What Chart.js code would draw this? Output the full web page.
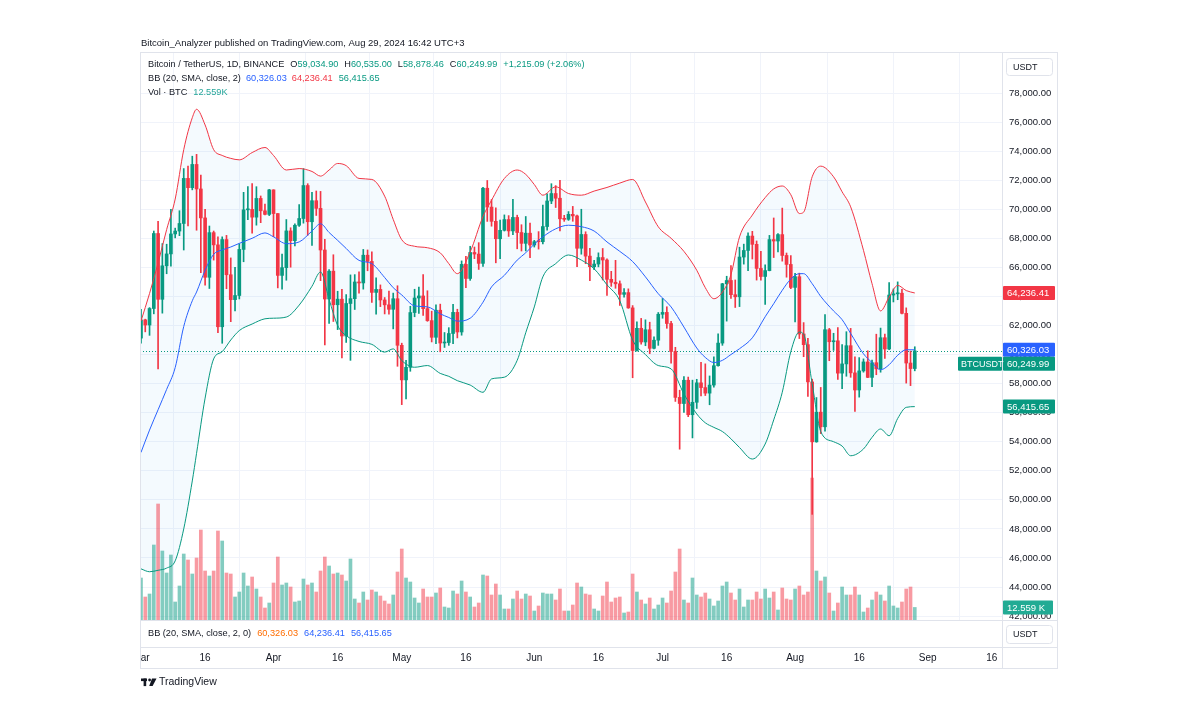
<!DOCTYPE html>
<html lang="en">
<head>
<meta charset="utf-8">
<title>BTCUSDT 1D - Bollinger Bands</title>
<script src="https://cdn.jsdelivr.net/npm/chart.js@4.4.1/dist/chart.umd.min.js"></script>
<style>
  html, body { margin: 0; padding: 0; background: #fff; }
  #chart { display: block; }
</style>
</head>
<body>
<canvas id="chart" width="1200" height="728"></canvas>
<script>
'use strict';

/* ============================================================
   DATA  (x = days since Mar 1, 2024)
   ============================================================ */
const tickDays   = [0, 15, 31, 46, 61, 76, 92, 107, 122, 137, 153, 168, 184, 199];
const tickLabels = ['Mar', '16', 'Apr', '16', 'May', '16', 'Jun', '16', 'Jul', '16', 'Aug', '16', 'Sep', '16'];
const priceTicks = [42000, 44000, 46000, 48000, 50000, 52000, 54000, 56000, 58000, 60000,
                    62000, 64000, 66000, 68000, 70000, 72000, 74000, 76000, 78000];

const opens = [
  61130, 62387, 62031, 63168, 68330, 63801, 66106, 66925, 68300, 68498,
  69020, 72123, 71482, 73083, 71396, 69403, 65316, 68390, 67548, 61912,
  67913, 65491, 63778, 64062, 67234, 69958, 69987, 69455, 70744, 69892,
  69645, 71333, 69702, 65446, 65980, 68508, 67837, 68896, 69362, 71631,
  69139, 70587, 70060, 67195, 63821, 65738, 63426, 63811, 61276, 63512,
  63843, 64994, 64927, 66837, 66407, 64276, 64481, 63756, 63419, 63113,
  63841, 60636, 58254, 59123, 62889, 63891, 64031, 63161, 62334, 61187,
  63049, 60793, 60825, 61448, 62901, 61552, 66206, 65235, 67024, 66915,
  66274, 71446, 70148, 69166, 67969, 68549, 69290, 68508, 69436, 68398,
  67652, 68352, 67540, 67767, 67765, 68809, 70567, 71082, 70757, 69342,
  69305, 69648, 69540, 67314, 68263, 66773, 66043, 66228, 66676, 66504,
  65175, 64974, 64869, 64143, 64262, 63210, 60277, 61806, 60864, 61706,
  60427, 60986, 62772, 62900, 62135, 60208, 57050, 56628, 58230, 55857,
  56714, 58051, 57725, 57343, 57899, 59231, 60787, 64870, 65097, 64118,
  63974, 66710, 67163, 68154, 67585, 65927, 65372, 65777, 67912, 67813,
  68255, 66819, 66201, 64619, 65357, 61415, 60680, 58116, 53991, 56034,
  55027, 61710, 60880, 60945, 58719, 59354, 60609, 58737, 57560, 58874,
  59491, 58427, 59438, 59013, 61157, 60381, 64094, 64178, 64220, 62834,
  59415, 59034.90
];
const highs = [
  63114, 62433, 63231, 68500, 69170, 67637, 67593, 69990, 68700, 69900,
  72800, 72969, 73650, 73777, 72357, 70000, 68845, 68500, 68107, 68100,
  68200, 66650, 65999, 67622, 71162, 71561, 71769, 71552, 70913, 70355,
  71366, 71342, 69708, 66915, 69291, 68725, 69000, 70326, 72797, 71758,
  71172, 71256, 71228, 67932, 65840, 66868, 64355, 64486, 64125, 65481,
  65500, 65696, 67233, 67199, 67075, 65275, 64792, 63923, 64370, 64228,
  64734, 60781, 59602, 63321, 64494, 64646, 65500, 64390, 62985, 63421,
  63469, 61515, 61850, 63450, 63118, 66444, 66752, 67451, 67400, 67700,
  71515, 71979, 70666, 70096, 69250, 69610, 69562, 70687, 69591, 68935,
  69500, 69044, 67860, 68460, 70288, 71063, 71758, 71625, 71997, 69582,
  69840, 70195, 69590, 69999, 68449, 67310, 66478, 66998, 67298, 66588,
  65727, 66482, 65066, 64546, 64521, 63369, 62258, 62487, 62389, 62225,
  61224, 62892, 63861, 63288, 62285, 60498, 57546, 58475, 58449, 58236,
  58296, 59470, 59359, 58526, 59850, 61420, 64900, 65388, 66128, 65133,
  67386, 67598, 68373, 68480, 67817, 67102, 66175, 68200, 69399, 68318,
  70079, 66987, 66810, 65593, 65600, 62198, 61117, 58305, 57040, 57736,
  62745, 61800, 61464, 61858, 60680, 61572, 61800, 59849, 59789, 59700,
  60260, 59617, 61400, 61820, 61400, 64955, 64513, 65000, 64481, 63212,
  60234, 60535.00
];
const lows = [
  60777, 61561, 61320, 62800, 59005, 62848, 65560, 66082, 68030, 68180,
  67194, 68845, 71334, 68555, 65630, 64780, 64545, 66500, 61500, 60775,
  64529, 62260, 63000, 63825, 66385, 69280, 68359, 68904, 69076, 69601,
  69562, 68111, 64586, 64500, 65113, 66011, 67480, 68824, 69041, 68210,
  67518, 69571, 65086, 60660, 62134, 62274, 61716, 59768, 60833, 59600,
  63100, 64227, 64500, 65765, 63589, 62783, 63298, 62794, 62784, 61765,
  59191, 56552, 56937, 58848, 62599, 62823, 62700, 62285, 60866, 60749,
  60187, 60487, 60632, 60750, 61143, 61330, 64602, 65106, 66600, 65857,
  66060, 69162, 68832, 66312, 66600, 68500, 68128, 68250, 67277, 67124,
  67128, 66670, 67397, 67257, 67613, 68567, 70383, 70119, 68500, 69168,
  69232, 69172, 66051, 66905, 66251, 65078, 65840, 66034, 65131, 64060,
  64693, 64559, 63379, 63944, 63178, 58402, 60239, 60712, 60606, 60063,
  60383, 60632, 62497, 61806, 59400, 56772, 53485, 56018, 55724, 54260,
  56289, 57157, 57178, 56542, 57756, 59194, 60632, 62300, 63854, 63238,
  63300, 66222, 65777, 66573, 65124, 65111, 63456, 65757, 66676, 67066,
  66428, 65323, 64532, 62248, 61100, 59850, 57122, 49000, 53962, 54558,
  54730, 59575, 60288, 58286, 57642, 58505, 58433, 56078, 57068, 58785,
  58408, 57787, 58610, 58783, 59724, 60342, 63619, 63773, 62800, 58034,
  57860, 58878.46
];
const closes = [
  62387, 62031, 63168, 68330, 63801, 66106, 66925, 68300, 68498, 69020,
  72123, 71482, 73083, 71396, 69403, 65316, 68390, 67548, 61912, 67913,
  65491, 63778, 64062, 67234, 69958, 69987, 69455, 70744, 69892, 69645,
  71333, 69702, 65446, 65980, 68508, 67837, 68896, 69362, 71631, 69139,
  70587, 70060, 67195, 63821, 65738, 63426, 63811, 61276, 63512, 63843,
  64994, 64927, 66837, 66407, 64276, 64481, 63756, 63419, 63113, 63841,
  60636, 58254, 59123, 62889, 63891, 64031, 63161, 62334, 61187, 63049,
  60793, 60825, 61448, 62901, 61552, 66206, 65235, 67024, 66915, 66274,
  71446, 70148, 69166, 67969, 68549, 69290, 68508, 69436, 68398, 67652,
  68352, 67540, 67767, 67765, 68809, 70567, 71082, 70757, 69342, 69305,
  69648, 69540, 67314, 68263, 66773, 66043, 66228, 66676, 66504, 65175,
  64974, 64869, 64143, 64262, 63210, 60277, 61806, 60864, 61706, 60427,
  60986, 62772, 62900, 62135, 60208, 57050, 56628, 58230, 55857, 56714,
  58051, 57725, 57343, 57899, 59231, 60787, 64870, 65097, 64118, 63974,
  66710, 67163, 68154, 67585, 65927, 65372, 65777, 67912, 67813, 68255,
  66819, 66201, 64619, 65357, 61415, 60680, 58116, 53991, 56034, 55027,
  61710, 60880, 60945, 58719, 59354, 60609, 58737, 57560, 58874, 59491,
  58427, 59438, 59013, 61157, 60381, 64094, 64178, 64220, 62834, 59415,
  59034.90, 60249.99
];
// volume in BTC
const vols = [
  42000, 23000, 26000, 75000, 116000, 69000, 47000, 65000, 18000, 34000,
  66000, 60000, 46000, 62000, 90000, 49000, 44000, 49000, 89000, 79000,
  47000, 46000, 23000, 28000, 47000, 34000, 43000, 31000, 23000, 12000,
  17000, 37000, 63000, 35000, 37000, 33000, 18000, 19000, 41000, 35000,
  37000, 28000, 49000, 63000, 54000, 46000, 47000, 45000, 39000, 61000,
  21000, 17000, 28000, 20000, 30000, 28000, 24000, 19000, 16000, 25000,
  48000, 71000, 42000, 38000, 22000, 17000, 31000, 23000, 23000, 27000,
  32000, 13000, 12000, 29000, 26000, 39000, 28000, 23000, 13000, 17000,
  45000, 44000, 25000, 36000, 25000, 11000, 11000, 21000, 29000, 21000,
  26000, 24000, 9000, 14000, 27000, 26000, 26000, 20000, 31000, 9000,
  9000, 15000, 37000, 33000, 26000, 25000, 11000, 9000, 24000, 38000,
  18000, 22000, 23000, 7000, 8000, 46000, 28000, 20000, 16000, 22000,
  11000, 15000, 22000, 17000, 29000, 48000, 71000, 20000, 17000, 42000,
  25000, 23000, 27000, 21000, 14000, 19000, 34000, 38000, 27000, 20000,
  31000, 13000, 20000, 20000, 28000, 21000, 31000, 22000, 28000, 10000,
  32000, 21000, 20000, 31000, 34000, 25000, 28000, 142000, 49000, 39000,
  43000, 27000, 9000, 17000, 33000, 25000, 25000, 33000, 25000, 8000,
  12000, 20000, 28000, 25000, 19000, 34000, 14000, 12000, 18000, 31000,
  33000, 12559
];

// Bollinger Bands (20, 2)
const bbDays = [
  0, 2, 4, 6, 8, 10, 12, 13, 15, 17, 19, 21, 23, 26, 29, 31, 34, 37, 40, 42,
  44, 46, 48, 51, 54, 57, 59, 61, 64, 67, 70, 72, 74, 77, 80, 82, 85, 88, 90, 92,
  94, 97, 100, 103, 106, 109, 112, 115, 118, 121, 124, 127, 130, 132, 134, 136, 138, 140, 143, 146,
  148, 150, 152, 154, 155, 157, 159, 162, 164, 166, 169, 171, 173, 175, 177, 179, 181
];
const bbUpper = [
  62300, 64200, 66300, 68600, 70700, 74100, 76300, 76880, 75800, 74100, 73700, 73500, 73400, 73900, 74250, 73700, 72700, 72800, 72600, 72280,
  72700, 73150, 73000, 72120, 72050, 70900, 69300, 67900, 67450, 67350, 67000, 66255, 65566, 67062, 69500, 70620, 72117, 72700, 72400, 71700,
  70966, 71545, 71083, 70966, 71250, 71500, 71800, 72048, 70500, 68793, 68000, 67100, 65800, 64600, 63841, 64300, 65500, 68096, 69600, 70800,
  71400, 71600, 71000, 69704, 69800, 72234, 72966, 72234, 71200, 70165, 67172, 64876, 63000, 63955, 64759, 64400, 64236.41
];
const bbBasis = [
  53260, 54800, 56200, 57600, 59100, 61930, 63700, 64300, 65800, 66900, 67200, 67400, 67650, 68000, 68370, 68100, 67630, 67750, 68500, 69000,
  68400, 67860, 67300, 66480, 66255, 65300, 64600, 64100, 63350, 63280, 62800, 62550, 62300, 62500, 63600, 64655, 65450, 66500, 67000, 67600,
  68100, 68650, 68900, 68800, 68500, 67750, 67100, 66400, 65345, 64186, 63276, 61890, 60450, 59800, 59450, 59600, 60000, 60400, 61150, 62600,
  63500, 64421, 65200, 65566, 65566, 64876, 64000, 63000, 62400, 61450, 60050, 59450, 58950, 59300, 59950, 60330, 60326.03
];
const bbLower = [
  45250, 45050, 45150, 45300, 45800, 48000, 51300, 53200, 57000, 59700, 60200, 61000, 61650, 62100, 62460, 62500, 62580, 63400, 64700, 65680,
  63800, 62000, 61300, 60900, 60700, 60166, 60390, 59586, 59124, 59241, 58700, 58500, 58200, 57900, 57400, 58321, 58440, 59600, 61500, 63276,
  65345, 66255, 66850, 66500, 65900, 64800, 63700, 61000, 60000, 59241, 59014, 57286, 55910, 55300, 54986, 54700, 54200, 53600, 52807, 53841,
  55500, 57400, 60200, 61545, 61400, 57976, 54700, 54000, 53700, 53034, 53500, 54300, 54872, 54410, 55600, 56365, 56415.65
];

/* ============================================================
   STYLE
   ============================================================ */
const FONT = '"Liberation Sans", Arial, sans-serif';
const INK = '#131722';
const BORDER = '#e0e3eb';
const GRID = '#f0f3fa';
const UP = '#089981';
const DOWN = '#f23645';
const BLUE = '#2962ff';
const VOL_UP = 'rgba(8,153,129,0.5)';
const VOL_DOWN = 'rgba(242,54,69,0.5)';
const BAND_FILL = 'rgba(33,150,243,0.05)';

const last = closes.length - 1;
const isUp = i => closes[i] >= opens[i];
const fmt = n => Number(n).toLocaleString('en-US', { minimumFractionDigits: 2, maximumFractionDigits: 2 });

/* ---- small canvas helpers --------------------------------- */
function text(ctx, s, x, y, color, size, align = 'left', weight = 'normal') {
  ctx.font = `${weight} ${size}px ${FONT}`;
  ctx.fillStyle = color;
  ctx.textAlign = align;
  ctx.textBaseline = 'middle';
  ctx.fillText(s, x, y);
  return ctx.measureText(s).width;
}

// draw a run of [string, color, gapAfter] pieces on one line
function runs(ctx, parts, x, y, size) {
  parts.forEach(([s, color, gap]) => {
    x += text(ctx, s, x, y, color, size) + (gap || 0);
  });
}

function box(ctx, x, y, w, h, r, fill, stroke) {
  ctx.beginPath();
  ctx.roundRect(x, y, w, h, r);
  if (fill) { ctx.fillStyle = fill; ctx.fill(); }
  if (stroke) { ctx.strokeStyle = stroke; ctx.lineWidth = 1; ctx.stroke(); }
}

function hline(ctx, x1, x2, y) {
  ctx.beginPath(); ctx.moveTo(x1, y); ctx.lineTo(x2, y); ctx.stroke();
}
function vline(ctx, x, y1, y2) {
  ctx.beginPath(); ctx.moveTo(x, y1); ctx.lineTo(x, y2); ctx.stroke();
}

/* ============================================================
   OVERLAY PLUGIN — frame, legend, price tags
   ============================================================ */
const tvOverlay = {
  id: 'tvOverlay',

  beforeDraw(chart) {
    const { ctx } = chart;
    ctx.save();
    ctx.fillStyle = '#fff';
    ctx.fillRect(0, 0, chart.width, chart.height);
    ctx.restore();
  },

  // dotted last price line under the candles
  beforeDatasetsDraw(chart) {
    const { ctx, chartArea: a, scales } = chart;
    const y = Math.round(scales.y.getPixelForValue(closes[last])) + 0.5;
    ctx.save();
    ctx.strokeStyle = UP;
    ctx.lineWidth = 1;
    ctx.setLineDash([1, 2]);
    hline(ctx, a.left, a.right, y);
    ctx.restore();
  },

  afterDraw(chart) {
    const { ctx, chartArea: a, scales } = chart;
    ctx.save();

    // hide the part of the first date label that sits outside the frame
    ctx.fillStyle = '#fff';
    ctx.fillRect(0, a.bottom + 28, a.left, 20);

    // frame
    ctx.strokeStyle = BORDER;
    ctx.lineWidth = 1;
    ctx.strokeRect(140.5, 52.5, 917, 616);
    vline(ctx, a.right + 0.5, 52.5, 668.5);
    hline(ctx, 140.5, 1057.5, a.bottom + 0.5);
    hline(ctx, 140.5, 1057.5, 647.5);

    // title
    text(ctx, 'Bitcoin_Analyzer published on TradingView.com, Aug 29, 2024 16:42 UTC+3', 141, 43.5, INK, 9.5);

    // legend
    const chg = closes[last] - closes[last - 1];
    const pct = chg / closes[last - 1] * 100;
    runs(ctx, [
      ['Bitcoin / TetherUS, 1D, BINANCE', INK, 6],
      ['O', INK], [fmt(opens[last]), UP, 6],
      ['H', INK], [fmt(highs[last]), UP, 6],
      ['L', INK], [fmt(lows[last]), UP, 6],
      ['C', INK], [fmt(closes[last]), UP, 6],
      [`${chg >= 0 ? '+' : ''}${fmt(chg)} (${chg >= 0 ? '+' : ''}${pct.toFixed(2)}%)`, UP]
    ], 148, 64.5, 9.2);
    runs(ctx, [
      ['BB (20, SMA, close, 2)', INK, 5],
      [fmt(bbBasis[bbBasis.length - 1]), BLUE, 5],
      [fmt(bbUpper[bbUpper.length - 1]), DOWN, 6],
      [fmt(bbLower[bbLower.length - 1]), UP]
    ], 148, 78, 9.2);
    runs(ctx, [
      ['Vol \u00b7 BTC', INK, 6],
      [(vols[last] / 1000).toFixed(3) + 'K', '#26a69a']
    ], 148, 92, 9.2);

    // lower pane legend
    runs(ctx, [
      ['BB (20, SMA, close, 2, 0)', INK, 6],
      [fmt(bbBasis[bbBasis.length - 1]), '#ff6d00', 6],
      [fmt(bbUpper[bbUpper.length - 1]), BLUE, 6],
      [fmt(bbLower[bbLower.length - 1]), BLUE]
    ], 148, 633, 9.2);

    // USDT buttons
    box(ctx, 1006.5, 58.5, 46, 17, 3, '#fff', BORDER);
    text(ctx, 'USDT', 1013, 67.5, INK, 9);
    box(ctx, 1006.5, 625.5, 46, 18, 3, '#fff', BORDER);
    text(ctx, 'USDT', 1013, 635, INK, 9);

    // price tags on the right scale, pushed apart when they collide
    const tags = [
      { v: bbUpper[bbUpper.length - 1], bg: DOWN },
      { v: bbBasis[bbBasis.length - 1], bg: BLUE },
      { v: closes[last], bg: UP, name: 'BTCUSDT' },
      { v: bbLower[bbLower.length - 1], bg: UP }
    ].map(t => ({ ...t, y: scales.y.getPixelForValue(t.v) }));
    for (let i = 1; i < tags.length; i++) {
      if (tags[i].y - tags[i - 1].y < 14) tags[i].y = tags[i - 1].y + 14;
    }
    tags.forEach(t => {
      box(ctx, a.right + 1, t.y - 7, 52, 14, 1, t.bg);
      text(ctx, fmt(t.v), a.right + 5, t.y + 0.5, '#fff', 9.5);
      if (t.name) {
        box(ctx, a.right - 44, t.y - 7, 44, 14, 1, t.bg);
        text(ctx, t.name, a.right - 41, t.y + 0.5, '#fff', 9);
      }
    });
    const vy = scales.yv.getPixelForValue(vols[last]);
    box(ctx, a.right + 1, vy - 7, 50, 14, 1, '#22ab94');
    text(ctx, (vols[last] / 1000).toFixed(3) + ' K', a.right + 5, vy + 0.5, '#fff', 9.5);

    // TradingView mark
    ctx.fillStyle = INK;
    ctx.fillRect(141, 678.5, 6, 2.6);
    ctx.fillRect(143.6, 678.5, 2.6, 7.6);
    ctx.beginPath(); ctx.arc(149.6, 680, 1.4, 0, Math.PI * 2); ctx.fill();
    ctx.beginPath();
    ctx.moveTo(152, 678.5); ctx.lineTo(156.5, 678.5); ctx.lineTo(152.6, 686.1); ctx.lineTo(149.2, 686.1);
    ctx.closePath(); ctx.fill();
    text(ctx, 'TradingView', 159, 682.5, INK, 10.5);

    ctx.restore();
  }
};

/* ============================================================
   CHART
   ============================================================ */
const candleBody = closes.map((c, i) => ({ x: i, y: [opens[i], c] }));
const candleWick = highs.map((h, i) => ({ x: i, y: [lows[i], h] }));
const volume = vols.map((v, i) => ({ x: i, y: v }));
const band = arr => bbDays.map((d, i) => ({ x: d, y: arr[i] }));

const bandLine = (label, data, color, extra = {}) => ({
  type: 'line', label, data, order: 0,
  borderColor: color, borderWidth: 1,
  pointRadius: 0, cubicInterpolationMode: 'monotone',
  fill: false, ...extra
});

new Chart(document.getElementById('chart'), {
  type: 'bar',
  data: {
    datasets: [
      bandLine('Upper', band(bbUpper), DOWN, { fill: { target: 2, above: BAND_FILL, below: BAND_FILL } }),
      bandLine('Basis', band(bbBasis), BLUE),
      bandLine('Lower', band(bbLower), UP),
      {
        label: 'Body', data: candleBody, order: 1, grouped: false,
        barThickness: 3, minBarLength: 1,
        backgroundColor: c => isUp(c.dataIndex) ? UP : DOWN
      },
      {
        label: 'Wick', data: candleWick, order: 2, grouped: false,
        barThickness: 1,
        backgroundColor: c => isUp(c.dataIndex) ? UP : DOWN
      },
      {
        label: 'Volume', data: volume, yAxisID: 'yv', order: 3, grouped: false,
        barThickness: 3,
        backgroundColor: c => isUp(c.dataIndex) ? VOL_UP : VOL_DOWN
      }
    ]
  },
  options: {
    responsive: false,
    devicePixelRatio: 1,
    animation: false,
    events: [],
    layout: { padding: { left: 140, top: 52, right: 142, bottom: 60 } },
    plugins: {
      legend: { display: false },
      tooltip: { enabled: false },
      filler: { drawTime: 'beforeDatasetsDraw' }
    },
    scales: {
      x: {
        type: 'linear', min: -0.23, max: 201.4, offset: false,
        afterBuildTicks: s => { s.ticks = tickDays.map(v => ({ value: v })); },
        afterFit: s => { s.height = 48; },
        ticks: {
          autoSkip: false, maxRotation: 0, padding: 32,
          color: INK, font: { family: FONT, size: 10 },
          callback: v => tickLabels[tickDays.indexOf(v)]
        },
        grid: { color: GRID, drawTicks: false },
        border: { display: false }
      },
      y: {
        position: 'right', min: 41729, max: 80822,
        afterBuildTicks: s => { s.ticks = priceTicks.map(v => ({ value: v })); },
        afterFit: s => { s.width = 56; },
        ticks: {
          padding: 7, color: INK, font: { family: FONT, size: 9.5 },
          callback: v => fmt(v)
        },
        grid: { color: GRID, drawTicks: false },
        border: { display: false }
      },
      yv: { display: false, min: 0, max: 568000 }
    }
  },
  plugins: [tvOverlay]
});
</script>
</body>
</html>
